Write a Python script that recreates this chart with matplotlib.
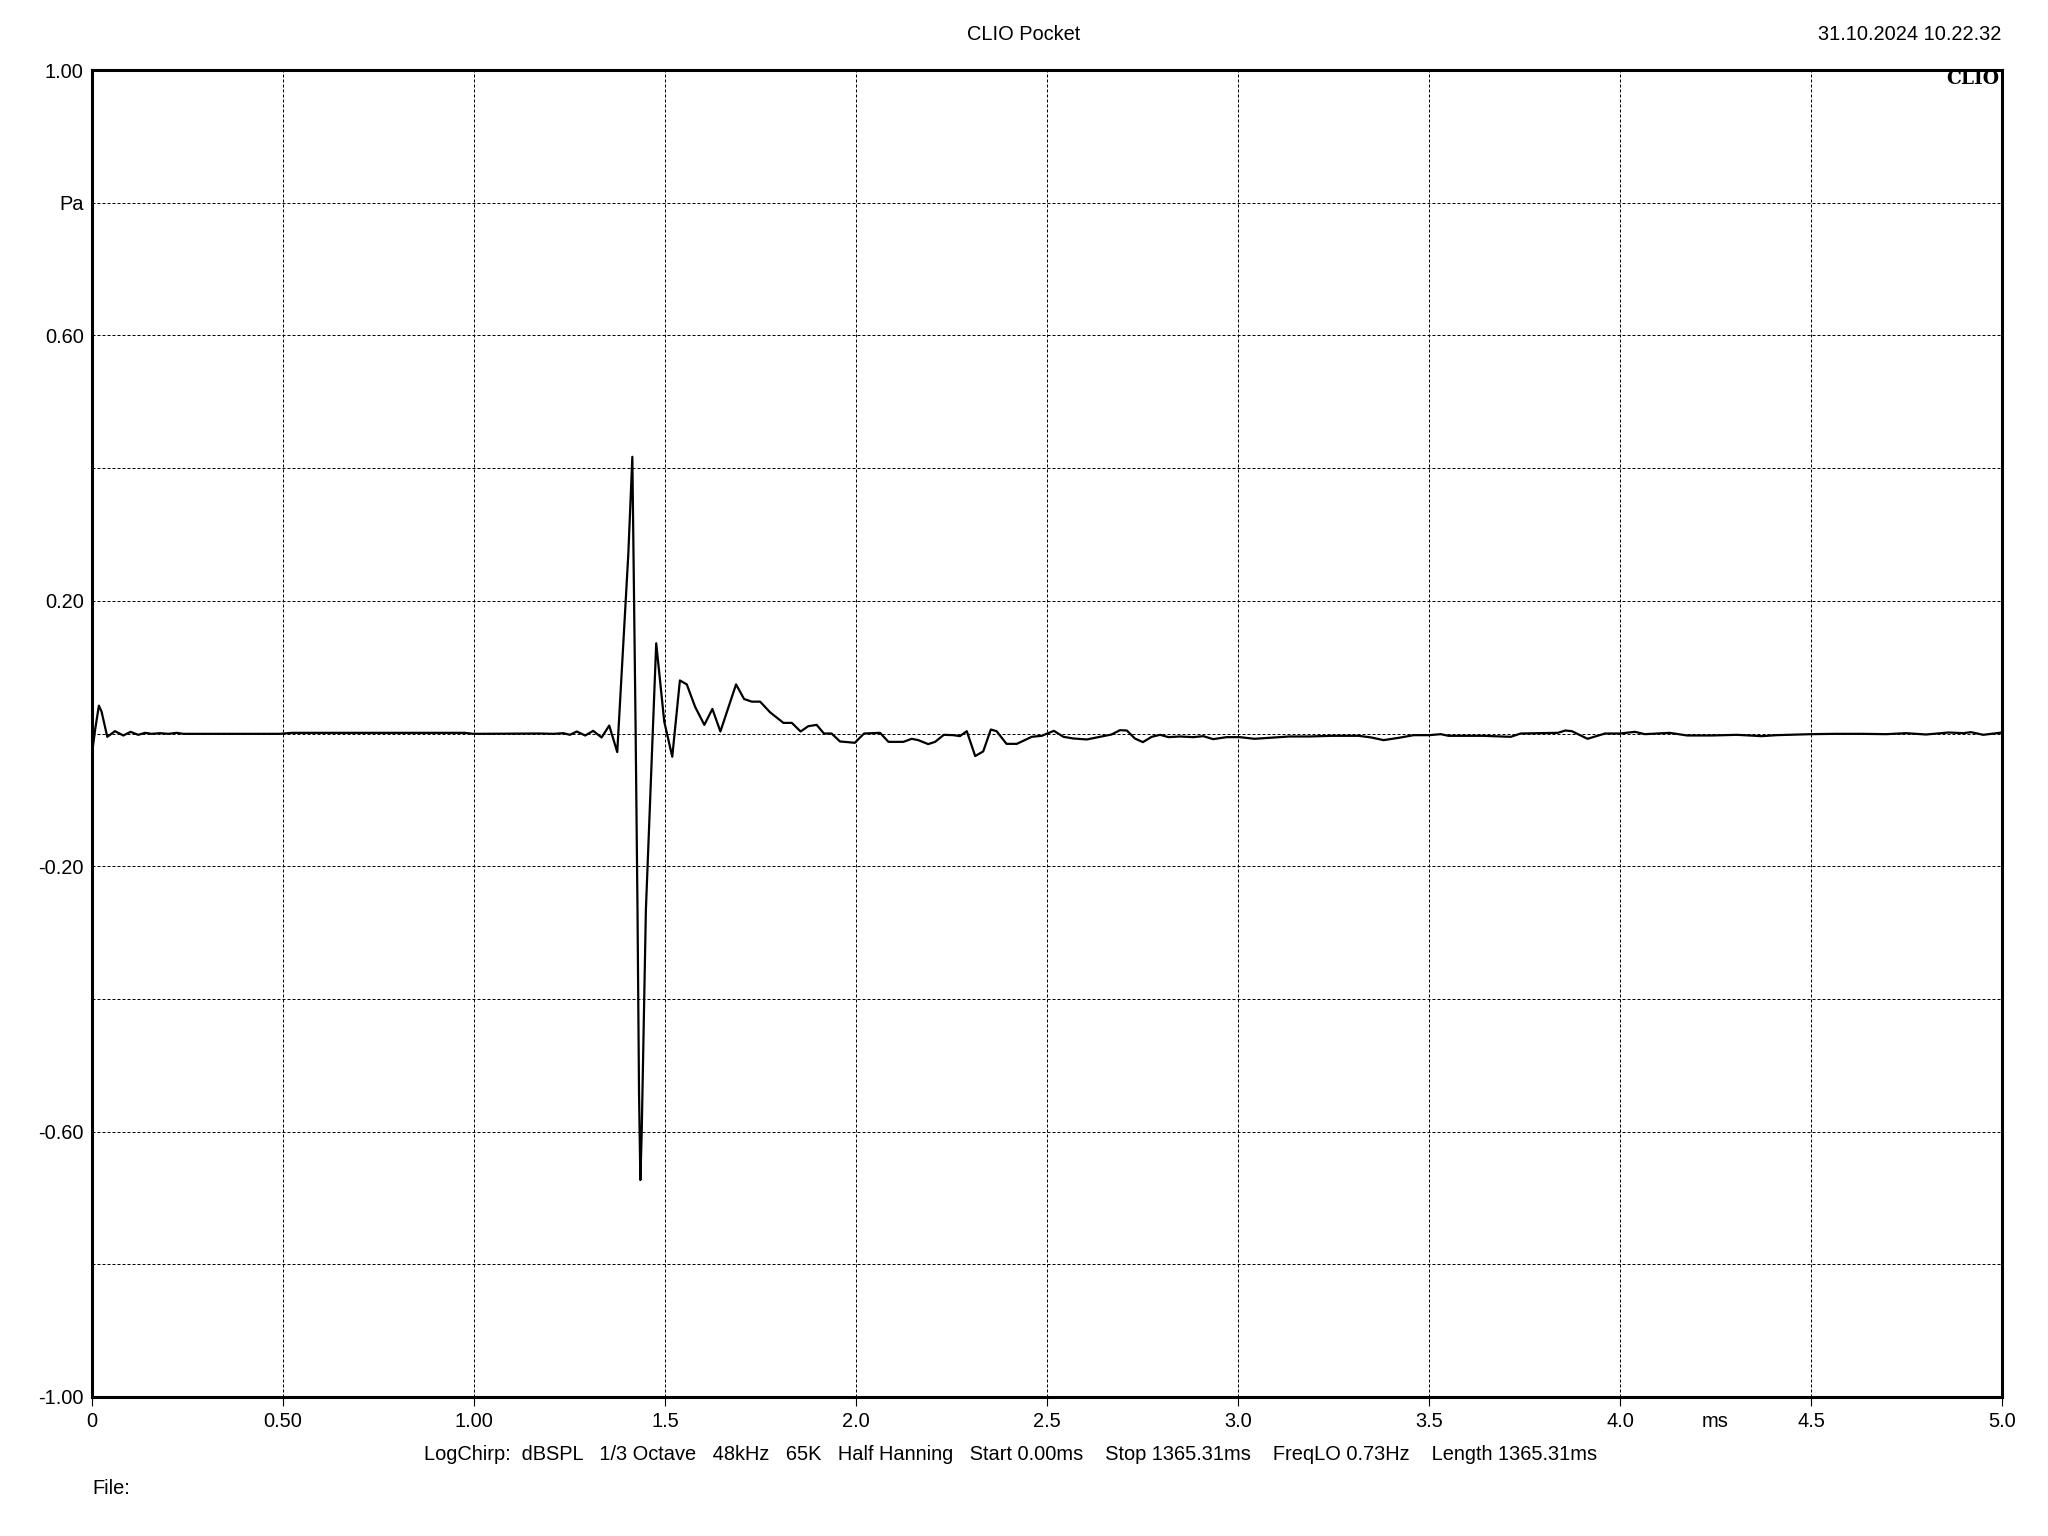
import matplotlib
matplotlib.use("Agg")
import matplotlib.pyplot as plt

plt.rcParams['font.family'] = ['Liberation Sans', 'DejaVu Sans']

# impulse response (time in ms, pressure in Pa)
t_ms = [0.000, 0.008, 0.018, 0.025, 0.040, 0.060, 0.082, 0.101, 0.121, 0.139,
        0.156, 0.178, 0.200, 0.222, 0.239, 0.492, 0.523, 0.976, 0.998, 1.173,
        1.208, 1.234, 1.251, 1.269, 1.291, 1.312, 1.334, 1.354, 1.375, 1.404,
        1.4145, 1.423, 1.428, 1.432, 1.4355, 1.439, 1.450, 1.477, 1.498, 1.519,
        1.539, 1.557, 1.579, 1.603, 1.624, 1.645, 1.686, 1.707, 1.727, 1.749,
        1.775, 1.810, 1.832, 1.855, 1.875, 1.897, 1.916, 1.936, 1.958, 1.997,
        2.021, 2.063, 2.085, 2.124, 2.146, 2.163, 2.189, 2.207, 2.230, 2.255,
        2.272, 2.290, 2.312, 2.333, 2.353, 2.368, 2.394, 2.421, 2.460, 2.486,
        2.518, 2.543, 2.569, 2.604, 2.639, 2.669, 2.691, 2.709, 2.730, 2.751,
        2.774, 2.796, 2.818, 2.848, 2.883, 2.909, 2.935, 2.970, 3.005, 3.043,
        3.082, 3.134, 3.186, 3.245, 3.316, 3.349, 3.381, 3.421, 3.460, 3.500,
        3.531, 3.551, 3.642, 3.714, 3.740, 3.785, 3.837, 3.857, 3.874, 3.915,
        3.961, 4.000, 4.039, 4.065, 4.130, 4.176, 4.241, 4.306, 4.371, 4.410,
        4.500, 4.566, 4.632, 4.697, 4.749, 4.801, 4.860, 4.899, 4.919, 4.951,
        5.000]
pa = [-0.030, 0.005, 0.042, 0.033, -0.005, 0.0035, -0.003, 0.0025, -0.002, 0.001,
      -0.0005, 0.0005, -0.0005, 0.001, -0.0005, -0.0005, 0.001, 0.001, -0.0005, 0.000,
      -0.0005, 0.0005, -0.002, 0.003, -0.003, 0.004, -0.006, 0.012, -0.028, 0.271,
      0.417, 0.010, -0.265, -0.541, -0.673, -0.602, -0.265, 0.136, 0.018, -0.035,
      0.080, 0.074, 0.040, 0.013, 0.037, 0.003, 0.074, 0.052, 0.048, 0.048,
      0.032, 0.016, 0.016, 0.003, 0.011, 0.013, 0.000, 0.000, -0.012, -0.014,
      0.000, 0.001, -0.0126, -0.0126, -0.008, -0.010, -0.016, -0.0126, -0.002, -0.0025,
      -0.004, 0.0035, -0.034, -0.027, 0.006, 0.0035, -0.0156, -0.0156, -0.005, -0.0035,
      0.004, -0.005, -0.0075, -0.009, -0.005, -0.0015, 0.005, 0.0045, -0.0075, -0.013,
      -0.005, -0.002, -0.0055, -0.0045, -0.0055, -0.004, -0.0085, -0.0055, -0.0055, -0.008,
      -0.0065, -0.0045, -0.0045, -0.0035, -0.0035, -0.006, -0.010, -0.0065, -0.0025, -0.0025,
      -0.001, -0.0035, -0.0035, -0.005, 0.000, 0.0005, 0.001, 0.0045, 0.0035, -0.008,
      0.000, 0.000, 0.0025, -0.001, 0.001, -0.003, -0.003, -0.002, -0.004, -0.0025,
      -0.001, -0.0005, -0.0005, -0.001, 0.0005, -0.0015, 0.0015, 0.0005, 0.002, -0.002,
      0.0015]

x_ticks = [0, 0.5, 1.0, 1.5, 2.0, 2.5, 3.0, 3.5, 4.0, 4.5, 5.0]
x_labels = ["0", "0.50", "1.00", "1.5", "2.0", "2.5", "3.0", "3.5", "4.0", "4.5", "5.0"]
y_ticks = [-1.0, -0.8, -0.6, -0.4, -0.2, 0.0, 0.2, 0.4, 0.6, 0.8, 1.0]
y_labels = ["-1.00", "", "-0.60", "", "-0.20", "", "0.20", "", "0.60", "Pa", "1.00"]

info = ("LogChirp:  dBSPL   1/3 Octave   48kHz   65K   Half Hanning   Start 0.00ms    "
        "Stop 1365.31ms    FreqLO 0.73Hz    Length 1365.31ms")

fs = 14.4

fig = plt.figure(figsize=(20.48, 15.36), dpi=100)
ax = fig.add_axes([92 / 2048, 1 - 1397 / 1536, 1910 / 2048, 1327 / 1536])

ax.plot(t_ms, pa, color='black', lw=1.6, zorder=3)

ax.set_xlim(0, 5.0)
ax.set_ylim(-1.0, 1.0)
ax.set_xticks(x_ticks)
ax.set_xticklabels(x_labels)
ax.set_yticks(y_ticks)
ax.set_yticklabels(y_labels)
ax.tick_params(axis='x', length=6.5, width=0.8, pad=4, labelsize=fs)
ax.tick_params(axis='y', length=0, pad=6, labelsize=fs)

ax.grid(True, color='black', lw=0.72, linestyle=(0, (3, 2)))
for s in ax.spines.values():
    s.set_linewidth(2.2)

# unit label sits in the tick label row, between 4.0 and 4.5
ax.annotate("ms", xy=(4.25, -1.0), xytext=(0, -10.5), textcoords='offset points',
            ha='center', va='top', fontsize=fs)

fig.text(1024 / 2048, 1 - 34 / 1536, "CLIO Pocket", ha='center', va='center', fontsize=fs)
fig.text(2001 / 2048, 1 - 34 / 1536, "31.10.2024 10.22.32", ha='right', va='center', fontsize=fs)
fig.text(1999 / 2048, 1 - 79 / 1536, "CLIO", ha='right', va='center', fontsize=13.5,
         fontweight='bold', family='DejaVu Serif')
fig.text(1011 / 2048, 1 - 1455 / 1536, info, ha='center', va='center', fontsize=fs)
fig.text(92 / 2048, 1 - 1489 / 1536, "File:", ha='left', va='center', fontsize=fs)

fig.savefig("out.png", dpi=100, facecolor='white')
